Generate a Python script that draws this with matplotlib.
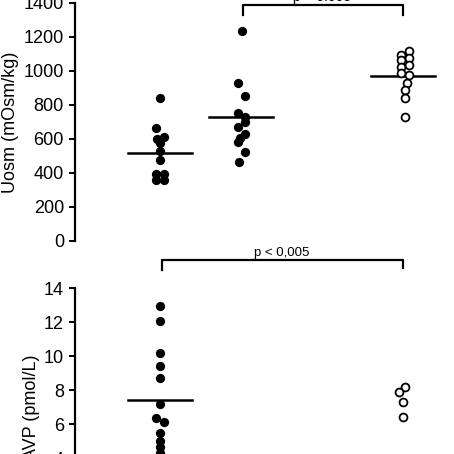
import matplotlib
matplotlib.use("Agg")
import matplotlib.pyplot as plt
import numpy as np

plt.rcParams['font.family'] = ['Liberation Sans', 'DejaVu Sans']

# Uosm panel (groups at x positions 1, 2, 4)
uosm_pos = [1, 2, 4]
uosm_g1 = [840, 665, 612, 600, 578, 530, 476, 395, 395, 358, 358]
uosm_g2 = [1235, 930, 855, 755, 730, 700, 670, 630, 605, 585, 525, 465]
uosm_g3 = [1115, 1095, 1075, 1062, 1035, 1022, 988, 975, 928, 890, 840, 730]
uosm_med = [516, 727, 971]

# AVP panel (groups at x positions 1, 4)
avp_pos = [1, 4]
avp_g1 = [12.94, 12.06, 10.16, 9.43, 8.69, 7.16, 6.33, 6.14, 5.45, 5.0, 4.65, 4.3]
avp_g3 = [8.19, 7.9, 7.31, 6.39]
avp_med = [7.41]

# small horizontal spread so touching dots stay visible
jit_u1 = [0, -0.05, 0.05, -0.04, 0, 0, 0, -0.05, 0.05, -0.05, 0.05]
jit_u2 = [0.01, -0.04, 0.05, -0.04, 0.05, 0.05, -0.04, 0.05, -0.01, -0.04, 0.05, -0.03]
jit_u3 = [0.07, -0.03, 0.07, -0.03, 0.07, -0.03, -0.03, 0.07, 0.05, 0.02, 0.02, 0.02]
jit_a1 = [0, 0, 0, 0, 0, 0, -0.05, 0.05, 0, 0, 0, 0]
jit_a3 = [0.03, -0.05, 0.0, 0.0]

fig = plt.figure(figsize=(4.54, 4.54), dpi=100)
ax1 = fig.add_axes([0.1652, 0.4692, 0.8348, 0.5242])
ax2 = fig.add_axes([0.1652, -0.1586, 0.8348, 0.5242])


def style(ax, ymax, step):
    for s in ['top', 'right', 'bottom']:
        ax.spines[s].set_visible(False)
    ax.spines['left'].set_linewidth(1.6)
    ax.set_xlim(-0.05, 4.63)
    ax.set_ylim(0, ymax)
    ax.set_yticks(np.arange(0, ymax + step / 2, step))
    ax.set_xticks([])
    ax.tick_params(axis='y', direction='out', length=4, width=1.4,
                   labelsize=13, pad=4)


def dots(ax, x, vals, jit, filled):
    xs = [x + j for j in jit]
    if filled:
        ax.scatter(xs, vals, s=32, color='black', zorder=3, clip_on=False)
    else:
        ax.scatter(xs, vals, s=32, facecolor='white', edgecolor='black',
                   linewidth=1.3, zorder=3, clip_on=False)


# top panel
style(ax1, 1400, 200)
dots(ax1, uosm_pos[0], uosm_g1, jit_u1, True)
dots(ax1, uosm_pos[1], uosm_g2, jit_u2, True)
dots(ax1, uosm_pos[2], uosm_g3, jit_u3, False)
for p, m in zip(uosm_pos, uosm_med):
    ax1.plot([p - 0.4, p + 0.4], [m, m], color='black', lw=1.8, zorder=2)
ax1.plot([2.03, 2.03, 4.0, 4.0], [1329, 1390, 1390, 1329], color='black',
         lw=1.6, clip_on=False)
ax1.text(3.0, 1412, 'p < 0.005', ha='center', va='baseline', fontsize=10,
         clip_on=False)
ax1.set_ylabel('Uosm (mOsm/kg)', fontsize=13, labelpad=3)

# bottom panel
style(ax2, 14, 2)
dots(ax2, avp_pos[0], avp_g1, jit_a1, True)
dots(ax2, avp_pos[1], avp_g3, jit_a3, False)
ax2.plot([avp_pos[0] - 0.4, avp_pos[0] + 0.4], [avp_med[0], avp_med[0]],
         color='black', lw=1.8, zorder=2)
ax2.plot([1.02, 1.02, 4.0, 4.0], [15.06, 15.65, 15.65, 15.2], color='black',
         lw=1.6, clip_on=False)
ax2.text(2.5, 15.88, 'p < 0,005', ha='center', va='baseline', fontsize=9.5,
         clip_on=False)
ax2.set_ylabel('AVP (pmol/L)', fontsize=13, labelpad=3)

fig.savefig('out.png', dpi=100)
